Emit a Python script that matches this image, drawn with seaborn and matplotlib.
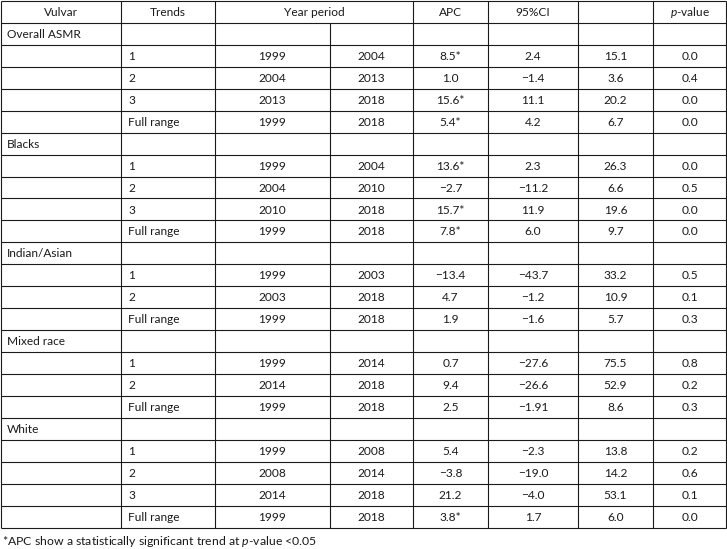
import matplotlib
matplotlib.use("Agg")
import matplotlib.pyplot as plt
import seaborn as sns

# ---------------- data ----------------
groups = ["Overall ASMR", "Blacks", "Indian/Asian", "Mixed race", "White"]
trends = [
    ["1", "2", "3", "Full range"],
    ["1", "2", "3", "Full range"],
    ["1", "2", "Full range"],
    ["1", "2", "Full range"],
    ["1", "2", "3", "Full range"],
]
start_year = [
    [1999, 2004, 2013, 1999],
    [1999, 2004, 2010, 1999],
    [1999, 2003, 1999],
    [1999, 2014, 1999],
    [1999, 2008, 2014, 1999],
]
end_year = [
    [2004, 2013, 2018, 2018],
    [2004, 2010, 2018, 2018],
    [2003, 2018, 2018],
    [2014, 2018, 2018],
    [2008, 2014, 2018, 2018],
]
apc = [
    ["8.5*", "1.0", "15.6*", "5.4*"],
    ["13.6*", "\u22122.7", "15.7*", "7.8*"],
    ["\u221213.4", "4.7", "1.9"],
    ["0.7", "9.4", "2.5"],
    ["5.4", "\u22123.8", "21.2", "3.8*"],
]
ci_low = [
    ["2.4", "\u22121.4", "11.1", "4.2"],
    ["2.3", "\u221211.2", "11.9", "6.0"],
    ["\u221243.7", "\u22121.2", "\u22121.6"],
    ["\u221227.6", "\u221226.6", "\u22121.91"],
    ["\u22122.3", "\u221219.0", "\u22124.0", "1.7"],
]
ci_high = [
    ["15.1", "3.6", "20.2", "6.7"],
    ["26.3", "6.6", "19.6", "9.7"],
    ["33.2", "10.9", "5.7"],
    ["75.5", "52.9", "8.6"],
    ["13.8", "14.2", "53.1", "6.0"],
]
p_value = [
    ["0.0", "0.4", "0.0", "0.0"],
    ["0.0", "0.5", "0.0", "0.0"],
    ["0.5", "0.1", "0.3"],
    ["0.8", "0.2", "0.3"],
    ["0.2", "0.6", "0.1", "0.0"],
]
headers = ["Vulvar", "Trends", "Year period", "APC", "95%CI", "", "$p$-value"]
footnote = "*APC show a statistically significant trend at $p$-value <0.05"

# ---------------- style ----------------
sns.set_theme(style="white")
plt.rcParams["font.family"] = ["Lato", "DejaVu Sans"]
plt.rcParams["mathtext.fontset"] = "custom"
plt.rcParams["mathtext.rm"] = "Lato"
plt.rcParams["mathtext.it"] = "Lato:italic"

W, H = 727, 549
fig = plt.figure(figsize=(W / 100, H / 100), dpi=100)
ax = fig.add_axes([0, 0, 1, 1])
ax.set_xlim(0, W)
ax.set_ylim(H, 0)
ax.axis("off")

col_x = [0.5, 121, 215, 330, 413, 488, 578, 653, 726]
y0, rh = 1.0, 21.94
fs = 8.6
tc = "#1a1a1a"
lc = "#1a1a1a"
lw = 0.8

# build rows
rows = []  # each: (kind, cells)
for g, name in enumerate(groups):
    rows.append(("group", [name]))
    for i in range(len(trends[g])):
        rows.append(("data", [trends[g][i], str(start_year[g][i]), str(end_year[g][i]),
                              apc[g][i], ci_low[g][i], ci_high[g][i], p_value[g][i]]))

n_rows = len(rows) + 1

def yc(r):
    return y0 + (r + 0.5) * rh + 0.6

# horizontal lines
for r in range(n_rows + 1):
    ax.plot([col_x[0], col_x[-1]], [y0 + r * rh] * 2, color=lc, lw=lw, solid_capstyle="butt")
# vertical lines
y_top, y_bot = y0, y0 + n_rows * rh
for j, x in enumerate(col_x):
    if j == 3:
        ax.plot([x, x], [y0 + rh, y_bot], color=lc, lw=lw, solid_capstyle="butt")
    else:
        ax.plot([x, x], [y_top, y_bot], color=lc, lw=lw, solid_capstyle="butt")

def cx(a, b):
    return (col_x[a] + col_x[b]) / 2

# header
hdr_pos = [cx(0, 1), cx(1, 2), cx(2, 4), cx(4, 5), cx(5, 6), cx(6, 7), cx(7, 8)]
for h, x in zip(headers, hdr_pos):
    if h:
        ax.text(x, yc(0), h, ha="center", va="center", fontsize=fs, color=tc)

# body
for r, (kind, cells) in enumerate(rows, start=1):
    y = yc(r)
    if kind == "group":
        ax.text(col_x[0] + 6.5, y, cells[0], ha="left", va="center", fontsize=fs, color=tc)
    else:
        ax.text(col_x[1] + 7, y, cells[0], ha="left", va="center", fontsize=fs, color=tc)
        centers = [cx(2, 3), cx(3, 4), cx(4, 5), cx(5, 6), cx(6, 7), cx(7, 8)]
        for c, x in zip(cells[1:], centers):
            ax.text(x, y, c, ha="center", va="center", fontsize=fs, color=tc)

ax.text(2, y_bot + 13.5, footnote, ha="left", va="center", fontsize=8.8, color=tc)

fig.savefig("out.png", dpi=100)
